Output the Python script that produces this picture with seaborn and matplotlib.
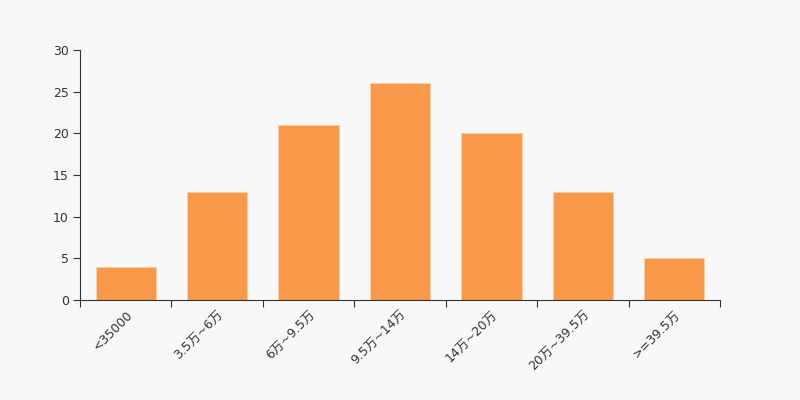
import numpy as np
import pandas as pd
import matplotlib
matplotlib.use("Agg")
import matplotlib.pyplot as plt
import seaborn as sns

categories = ["<35000", "3.5万~6万", "6万~9.5万", "9.5万~14万", "14万~20万", "20万~39.5万", ">=39.5万"]
counts = [4, 13, 21, 26, 20, 13, 5]
y_ticks = [0, 5, 10, 15, 20, 25, 30]

sns.set_style("ticks")
plt.rcParams['font.family'] = ['DejaVu Sans', 'Noto Sans CJK SC']

bg = "#f8f8f8"
txt = "#333333"

df = pd.DataFrame({"cat": categories, "n": counts})

fig = plt.figure(figsize=(8, 4), dpi=100, facecolor=bg)
ax = fig.add_axes([0.1, 0.25, 0.8, 0.625])
ax.set_facecolor(bg)
sns.barplot(data=df, x="cat", y="n", color="#f89848", saturation=1, width=0.66,
            edgecolor="#fbd0aa", linewidth=0.6, ax=ax)

ax.set_xlim(-0.5, len(categories) - 0.5)
ax.set_ylim(0, 30)
ax.set_yticks(y_ticks)
ax.set_xlabel("")
ax.set_ylabel("")

ax.set_xticks(np.arange(len(categories)))
ax.set_xticklabels(categories, rotation=45, ha="right", va="top", rotation_mode="anchor")
ax.set_xticks(np.arange(len(categories) + 1) - 0.5, minor=True)
ax.tick_params(axis="x", which="major", length=0, pad=6, labelsize=9, labelcolor=txt)
ax.tick_params(axis="x", which="minor", length=5, color=txt, width=0.8)
ax.tick_params(axis="y", length=5, color=txt, width=0.8, labelsize=9, labelcolor=txt, pad=3)

for s in ["top", "right"]:
    ax.spines[s].set_visible(False)
for s in ["left", "bottom"]:
    ax.spines[s].set_color(txt)
    ax.spines[s].set_linewidth(0.8)

fig.savefig("out.png", dpi=100, facecolor=bg)
